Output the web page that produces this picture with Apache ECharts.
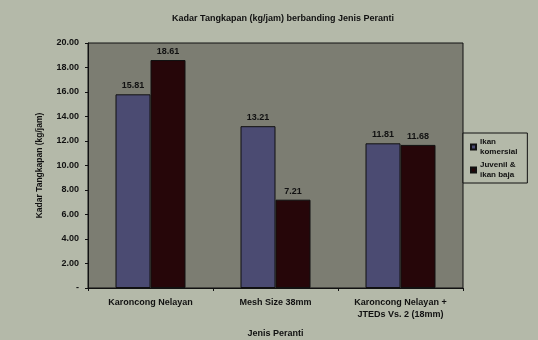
<!DOCTYPE html>
<html>
<head>
<meta charset="utf-8">
<script src="https://cdn.jsdelivr.net/npm/echarts@6/dist/echarts.min.js"></script>
<style>
  html, body { margin: 0; padding: 0; background: #b4b9a9; }
  #chart { width: 538px; height: 340px; }
</style>
</head>
<body>
<div id="chart"></div>
<script>
// data
var categories = ['Karoncong Nelayan', 'Mesh Size 38mm', 'Karoncong Nelayan +\nJTEDs Vs. 2 (18mm)']
var seriesNames = ['Ikan\nkomersial', 'Juvenil &\nikan baja']
var komersial = [15.81, 13.21, 11.81]
var juvenil = [18.61, 7.21, 11.68]

var font = 'Liberation Sans'
var chart = echarts.init(document.getElementById('chart'))

function labelOpt() {
  return {
    show: true,
    position: 'top',
    distance: 4,
    color: '#111',
    fontFamily: font,
    fontWeight: 'bold',
    fontSize: 9,
    formatter: function (p) { return p.value.toFixed(2) }
  }
}

chart.setOption({
  backgroundColor: '#b4b9a9',
  animation: false,
  title: {
    text: 'Kadar Tangkapan (kg/jam) berbanding Jenis Peranti',
    left: 278,
    top: 9,
    textAlign: 'center',
    textStyle: { fontFamily: font, fontWeight: 'bold', fontSize: 9, color: '#111' }
  },
  legend: {
    orient: 'vertical',
    left: 463,
    top: 133,
    padding: [4, 10, 3, 7],
    itemGap: 3,
    itemWidth: 5,
    itemHeight: 5,
    borderColor: '#111',
    borderWidth: 1,
    backgroundColor: '#b4b9a9',
    icon: 'rect',
    data: seriesNames,
    textStyle: { fontFamily: font, fontWeight: 'bold', fontSize: 8, color: '#111', lineHeight: 10, padding: [0, 0, 0, -1] }
  },
  grid: {
    left: 88,
    right: 75,
    top: 43,
    bottom: 52,
    outerBoundsMode: 'none',
    show: true,
    backgroundColor: '#7c7d72',
    borderColor: '#111',
    borderWidth: 1
  },
  xAxis: {
    type: 'category',
    data: categories,
    name: 'Jenis Peranti',
    nameLocation: 'middle',
    nameGap: 41,
    nameTextStyle: { fontFamily: font, fontWeight: 'bold', fontSize: 9, color: '#111' },
    axisLine: { lineStyle: { color: '#111' } },
    axisTick: { show: true, length: 3, lineStyle: { color: '#111' } },
    axisLabel: { fontFamily: font, fontWeight: 'bold', fontSize: 9, color: '#111', margin: 9, lineHeight: 12 }
  },
  yAxis: {
    type: 'value',
    min: 0,
    max: 20,
    interval: 2,
    name: 'Kadar Tangkapan (kg/jam)',
    nameLocation: 'middle',
    nameRotate: 90,
    nameGap: 44,
    nameTextStyle: { fontFamily: font, fontWeight: 'bold', fontSize: 8.5, color: '#111' },
    axisLine: { show: true, lineStyle: { color: '#111' } },
    axisTick: { show: true, length: 3, lineStyle: { color: '#111' } },
    splitLine: { show: false },
    axisLabel: {
      fontFamily: font, fontWeight: 'bold', fontSize: 9, color: '#111', margin: 9,
      formatter: function (v) { return v === 0 ? '-' : v.toFixed(2) }
    }
  },
  series: [
    {
      name: seriesNames[0],
      type: 'bar',
      data: komersial,
      barWidth: 35,
      barGap: '0%',
      itemStyle: { color: '#4b4b72', borderColor: '#111', borderWidth: 1 },
      label: labelOpt()
    },
    {
      name: seriesNames[1],
      type: 'bar',
      data: juvenil,
      barWidth: 35,
      barGap: '0%',
      itemStyle: { color: '#260609', borderColor: '#111', borderWidth: 1 },
      label: labelOpt()
    }
  ]
})
</script>
</body>
</html>
